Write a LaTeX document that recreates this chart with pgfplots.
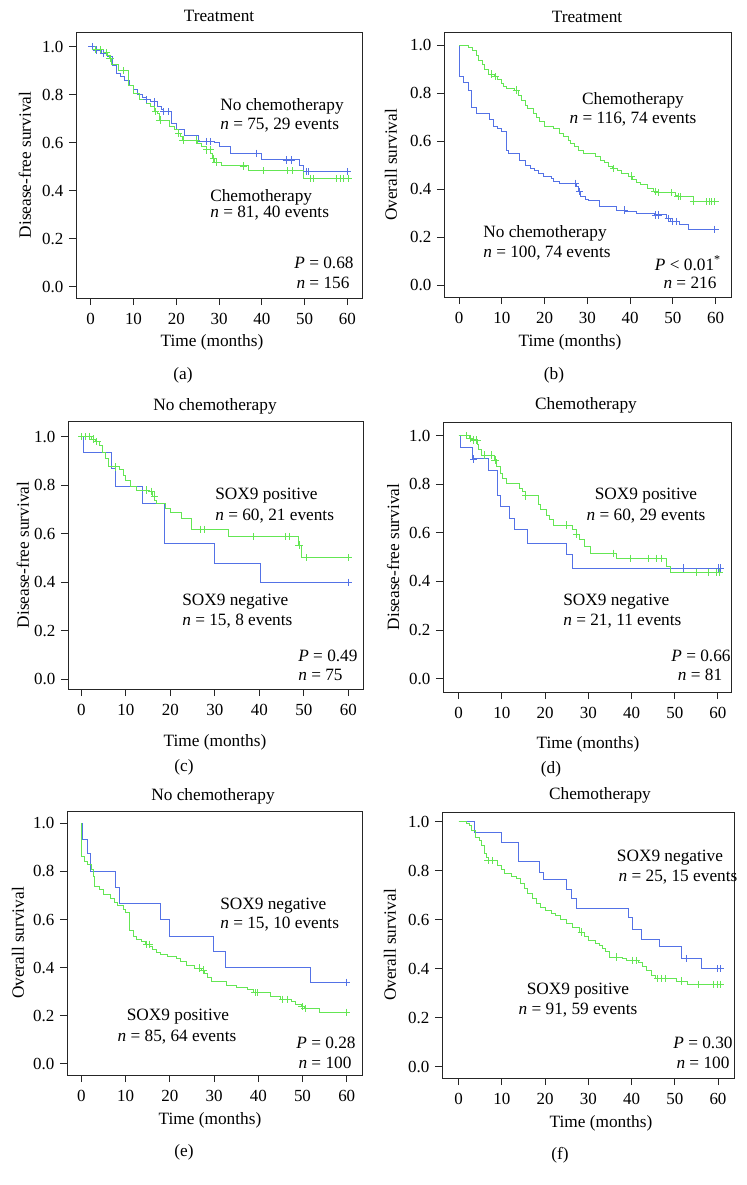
\documentclass[border=0pt]{standalone}
\usepackage{fontspec}
\setmainfont{Liberation Serif}
\usepackage{pgfplots}
\pgfplotsset{compat=1.18}
\definecolor{kmblue}{RGB}{84,114,230}
\definecolor{kmgreen}{RGB}{100,230,84}
\pgfplotsset{
  km/.style={
    scale only axis, anchor=south west,
    xtick={0,10,20,30,40,50,60},
    ytick={0,0.2,0.4,0.6,0.8,1},
    yticklabel style={/pgf/number format/fixed,/pgf/number format/fixed zerofill,/pgf/number format/precision=1},
    /pgf/number format/assume math mode=true,
    tick align=outside, tick pos=left, major tick length=4.4pt,
    axis line style={line width=0.6pt,black!85},
    tick style={line width=0.6pt,black!85},
    tick label style={font=\fontsize{10.6}{12.5}\selectfont},
    xticklabel style={yshift=-1.5pt},
    clip=false,
  },
  blueline/.style={const plot, kmblue, line width=0.6pt, no marks},
  greenline/.style={const plot, kmgreen, line width=0.6pt, no marks},
  bluecens/.style={only marks, kmblue, mark=+, mark size=2.3pt, mark options={line width=0.5pt}},
  greencens/.style={only marks, kmgreen, mark=+, mark size=2.3pt, mark options={line width=0.5pt}},
}
\begin{document}
\begin{tikzpicture}[font=\fontsize{10.8}{13}\selectfont]

% (a) disease-free survival, treatment
\begin{axis}[km, at={(47.5pt,554.375pt)}, width=178.75pt, height=166.25pt,
  xmin=-3.44, xmax=63.43, ymin=-0.047, ymax=1.061]
\addplot[blueline] coordinates {(0,1)(1,0.986)(2.5,0.972)(4,0.958)(5,0.92)(6,0.89)(7,0.875)(8,0.86)(9,0.84)(10,0.82)(11,0.80)(12,0.79)(13,0.78)(14,0.77)(15.5,0.75)(16.5,0.74)(17,0.73)(19,0.68)(20,0.655)(22,0.632)(25.3,0.605)(29,0.60)(30,0.583)(32.6,0.556)(40,0.528)(48.8,0.507)(49.7,0.479)(60,0.479)};
\addplot[bluecens] coordinates {(0.3,1)(1.3,0.986)(3,0.972)(13.1,0.78)(14.9,0.77)(17,0.73)(18.2,0.73)(27.1,0.605)(27.9,0.605)(38.8,0.556)(45.8,0.528)(47,0.528)(50.5,0.479)(50.9,0.479)(60,0.479)};
\addplot[greenline] coordinates {(0,1)(1,0.987)(3,0.975)(4,0.963)(4.5,0.951)(4.9,0.924)(6.5,0.90)(8.8,0.84)(10,0.805)(11.5,0.78)(13,0.765)(14,0.75)(15,0.73)(15.5,0.722)(16,0.694)(18.5,0.667)(19.5,0.653)(20.5,0.64)(21,0.625)(21.5,0.611)(25,0.597)(26,0.583)(27,0.57)(28,0.556)(28.5,0.535)(29,0.517)(30.5,0.503)(37,0.483)(49.7,0.451)(60.6,0.451)};
\addplot[greencens] coordinates {(1.1,0.987)(2.2,0.987)(3.7,0.975)(4.5,0.951)(7.6,0.90)(15.2,0.73)(16.2,0.694)(20.6,0.64)(21.6,0.611)(24.8,0.611)(27.1,0.57)(27.9,0.57)(28.7,0.535)(29.3,0.517)(35.7,0.503)(40.4,0.483)(46,0.483)(47.2,0.483)(51.3,0.451)(52.1,0.451)(57.5,0.451)(58.3,0.451)(59.1,0.451)(60.2,0.451)};
\end{axis}

% (b) overall survival, treatment
\begin{axis}[km, at={(277.5pt,555pt)}, width=179.4pt, height=165.6pt,
  xmin=-3.51, xmax=63.58, ymin=-0.05, ymax=1.054]
\addplot[blueline] coordinates {(0,1)(0.1,0.94)(0.2,0.87)(1.1,0.843)(2.1,0.81)(2.9,0.74)(4,0.715)(7.2,0.69)(8,0.662)(9,0.653)(9.9,0.64)(11,0.5625)(11.5,0.546)(14.2,0.52)(15.5,0.5)(16.8,0.486)(17.7,0.476)(18.6,0.465)(19.8,0.454)(21.5,0.444)(22,0.43)(23.5,0.424)(27.4,0.41)(27.9,0.389)(28.5,0.368)(29.5,0.357)(30.2,0.354)(32.9,0.326)(36.8,0.3125)(39,0.306)(41.5,0.299)(45.8,0.292)(48.5,0.278)(49.5,0.264)(51.6,0.254)(53.6,0.232)(59.8,0.232)};
\addplot[bluecens] coordinates {(27.2,0.424)(28.2,0.389)(38.7,0.3125)(46,0.292)(46.6,0.292)(48.9,0.278)(49.8,0.264)(50.7,0.264)(59.8,0.232)};
\addplot[greenline] coordinates {(0,1)(2.1,0.99)(3.1,0.976)(4,0.958)(4.5,0.9375)(5.5,0.917)(6,0.896)(7,0.879)(8.2,0.868)(9,0.857)(10,0.84)(10.5,0.826)(11,0.819)(13,0.8125)(14,0.79)(14.5,0.768)(15.5,0.75)(16,0.736)(17.5,0.715)(18,0.70)(18.8,0.68)(20,0.66)(22,0.653)(23.5,0.632)(24.5,0.618)(25.5,0.604)(26,0.59)(27,0.576)(28,0.562)(29,0.55)(30.5,0.546)(32,0.535)(33,0.52)(34,0.51)(35,0.493)(35.9,0.486)(37,0.479)(38,0.465)(39.5,0.454)(40.5,0.44)(41.5,0.426)(42.5,0.417)(44,0.403)(45.5,0.39)(46,0.385)(50.5,0.375)(51,0.368)(54.7,0.347)(60,0.347)};
\addplot[greencens] coordinates {(7.6,0.879)(8.6,0.868)(13.4,0.8125)(36.2,0.486)(40.3,0.454)(45.8,0.39)(46.5,0.385)(49.7,0.385)(51.2,0.368)(51.8,0.368)(54.8,0.347)(57.9,0.347)(58.5,0.347)(59.1,0.347)(59.8,0.347)};
\end{axis}

% (c) disease-free survival, no chemotherapy
\begin{axis}[km, at={(42.5pt,310pt)}, width=184.4pt, height=166.9pt,
  xmin=-2.99, xmax=63.3, ymin=-0.04, ymax=1.061]
\addplot[blueline] coordinates {(0,1)(0.45,0.934)(6.7,0.868)(7.6,0.797)(13.8,0.725)(18.6,0.56)(30,0.476)(40.3,0.40)(60,0.40)};
\addplot[bluecens] coordinates {(60,0.40)};
\addplot[greenline] coordinates {(0,1)(2.3,0.99)(3.2,0.98)(4,0.966)(4.8,0.934)(5.5,0.91)(6,0.876)(8.5,0.863)(9.5,0.842)(10,0.821)(11,0.794)(12.4,0.78)(15.4,0.775)(16,0.755)(16.5,0.739)(17,0.725)(19,0.705)(20,0.687)(22.5,0.663)(24.8,0.618)(33,0.588)(48.8,0.553)(49.5,0.501)(60,0.501)};
\addplot[greencens] coordinates {(0.1,1)(1,1)(1.8,1)(2.7,0.99)(3.5,0.98)(7.6,0.876)(14.7,0.78)(15.8,0.775)(16.4,0.755)(26.7,0.618)(27.6,0.618)(38.7,0.588)(45.8,0.588)(46.7,0.588)(48.9,0.553)(50.6,0.501)(60,0.501)};
\end{axis}

% (d) disease-free survival, chemotherapy
\begin{axis}[km, at={(276.875pt,308.125pt)}, width=180.6pt, height=168.75pt,
  xmin=-3.63, xmax=63.24, ymin=-0.055, ymax=1.056]
\addplot[blueline] coordinates {(0,1)(0.4,0.952)(3.3,0.904)(6.8,0.855)(8.9,0.753)(9.7,0.708)(11.8,0.66)(13,0.612)(16,0.557)(24.9,0.509)(26.3,0.455)(60.8,0.455)};
\addplot[bluecens] coordinates {(3.5,0.904)(52.1,0.455)(60,0.455)(60.5,0.455)};
\addplot[greenline] coordinates {(0,1)(2.5,0.989)(3,0.982)(4.3,0.964)(4.6,0.941)(5.2,0.92)(8.3,0.9)(8.8,0.872)(9.7,0.845)(10.2,0.824)(11.1,0.804)(14.1,0.783)(14.8,0.77)(15.5,0.752)(18.4,0.715)(19,0.694)(20.2,0.67)(21,0.653)(22,0.632)(26.4,0.615)(27.3,0.594)(28,0.571)(29.2,0.543)(30.5,0.516)(36.5,0.495)(48,0.46)(49,0.436)(60.8,0.436)};
\addplot[greencens] coordinates {(1.8,1)(2.6,0.989)(3.5,0.982)(4.2,0.982)(6,0.92)(7.6,0.92)(8.4,0.9)(15.5,0.752)(24.9,0.632)(27.3,0.594)(35.7,0.516)(39.8,0.495)(43.8,0.495)(45.7,0.495)(46.9,0.495)(55,0.436)(57.7,0.436)(59.6,0.436)(60.4,0.436)};
\end{axis}

% (e) overall survival, no chemotherapy
\begin{axis}[km, at={(41.875pt,68.75pt)}, width=184.4pt, height=165pt,
  xmin=-3.23, xmax=63.46, ymin=-0.046, ymax=1.051]
\addplot[blueline] coordinates {(0,1)(0.2,0.934)(1.4,0.873)(2.1,0.80)(7.8,0.734)(8.6,0.668)(17.9,0.601)(20,0.529)(29.8,0.467)(32.7,0.402)(51.7,0.339)(60,0.339)};
\addplot[bluecens] coordinates {(60,0.339)};
\addplot[greenline] coordinates {(0,1)(0.1,0.862)(0.8,0.843)(1.5,0.827)(2.2,0.81)(2.8,0.78)(3,0.737)(4,0.723)(5,0.706)(6.5,0.688)(7.5,0.67)(8.2,0.657)(9.5,0.64)(10,0.63)(11,0.554)(11.8,0.529)(12.5,0.518)(13.5,0.508)(14.5,0.497)(15.5,0.488)(16,0.476)(17,0.463)(18,0.456)(19.5,0.446)(21.5,0.439)(22.5,0.425)(23.7,0.411)(25.5,0.398)(27.2,0.39)(27.8,0.377)(28.5,0.36)(29.4,0.342)(32.9,0.328)(35,0.319)(37.5,0.31)(39,0.296)(42.7,0.28)(45,0.269)(47.5,0.259)(48.5,0.249)(49.8,0.238)(50.4,0.231)(53.8,0.215)(60,0.215)};
\addplot[greencens] coordinates {(14.8,0.497)(15.3,0.497)(26.7,0.398)(27.5,0.39)(39.3,0.296)(39.8,0.296)(45.5,0.269)(46.6,0.269)(49.9,0.238)(50.6,0.231)(60,0.215)};
\end{axis}

% (f) overall survival, chemotherapy
\begin{axis}[km, at={(276.25pt,66.875pt)}, width=183.1pt, height=166.25pt,
  xmin=-3.86, xmax=63.93, ymin=-0.046, ymax=1.04]
\addplot[blueline] coordinates {(0,1)(3.7,0.958)(9.9,0.916)(13.9,0.836)(18.7,0.795)(19.7,0.764)(24.9,0.723)(26.1,0.686)(27.2,0.645)(39.2,0.611)(40.2,0.561)(42.3,0.519)(46.4,0.489)(51.5,0.442)(56.2,0.40)(61,0.40)};
\addplot[bluecens] coordinates {(52.7,0.442)(59.8,0.40)(60.6,0.40)};
\addplot[greenline] coordinates {(0,1)(1.9,0.992)(2.5,0.985)(3,0.965)(4,0.9375)(4.8,0.924)(5.3,0.904)(6,0.872)(6.5,0.853)(6.8,0.842)(8.9,0.822)(9.8,0.804)(10.7,0.79)(12.2,0.777)(13.4,0.768)(14.3,0.747)(15.2,0.727)(16,0.707)(17,0.686)(18,0.668)(19,0.652)(20,0.639)(21.5,0.625)(22.5,0.618)(23.5,0.60)(25,0.584)(26.3,0.57)(28,0.55)(29,0.53)(30,0.516)(31.6,0.505)(32.6,0.496)(33.3,0.482)(34,0.469)(35,0.448)(37.8,0.44)(38.8,0.435)(41.5,0.424)(42.5,0.408)(43.5,0.391)(44.5,0.374)(45.5,0.36)(50.3,0.35)(53,0.337)(60.8,0.337)};
\addplot[greencens] coordinates {(6.8,0.842)(7.9,0.842)(28.4,0.55)(36.5,0.448)(40.2,0.435)(41.1,0.435)(46,0.36)(47,0.36)(47.8,0.36)(51.5,0.35)(55.5,0.337)(59,0.337)(59.8,0.337)(60.6,0.337)};
\end{axis}

\begin{scope}[x=0.625pt,y=0.625pt]
\path (0,0) rectangle (747,1185);
% titles
\node at (219,1169) {Treatment};
\node at (587,1168) {Treatment};
\node at (215,779) {No chemotherapy};
\node at (586,780) {Chemotherapy};
\node at (213,389) {No chemotherapy};
\node at (600,390) {Chemotherapy};
% y labels
\node[rotate=90] at (25,1020) {Disease-free survival};
\node[rotate=90] at (391,1020) {Overall survival};
\node[rotate=90] at (23,630) {Disease-free survival};
\node[rotate=90] at (393,628) {Disease-free survival};
\node[rotate=90] at (18,242) {Overall survival};
\node[rotate=90] at (390,240) {Overall survival};
% x labels
\node at (212,843) {Time (months)};
\node at (570,843) {Time (months)};
\node at (215,443) {Time (months)};
\node at (588,441) {Time (months)};
\node at (210,65) {Time (months)};
\node at (601,62) {Time (months)};
% panel letters
\node at (183,810) {(a)};
\node at (554,810) {(b)};
\node at (184,418) {(c)};
\node at (551,416) {(d)};
\node at (184,33) {(e)};
\node at (560,30) {(f)};

% annotations (a)
\node[anchor=west,inner sep=0pt] at (220,1079) {No chemotherapy};
\node[anchor=west,inner sep=0pt] at (220,1060) {\textit{n} = 75, 29 events};
\node[anchor=west,inner sep=0pt] at (210,988) {Chemotherapy};
\node[anchor=west,inner sep=0pt] at (210,972) {\textit{n} = 81, 40 events};
\node at (324,922) {\textit{P} = 0.68};
\node at (323,902) {\textit{n} = 156};
% annotations (b)
\node at (633,1085) {Chemotherapy};
\node at (633,1066) {\textit{n} = 116, 74 events};
\node[anchor=west,inner sep=0pt] at (483,952) {No chemotherapy};
\node[anchor=west,inner sep=0pt] at (483,932) {\textit{n} = 100, 74 events};
\node at (688,922) {\textit{P} < 0.01\textsuperscript{*}};
\node at (690,902) {\textit{n} = 216};
% annotations (c)
\node[anchor=west,inner sep=0pt] at (215,689) {SOX9 positive};
\node[anchor=west,inner sep=0pt] at (215,669) {\textit{n} = 60, 21 events};
\node[anchor=west,inner sep=0pt] at (182,583) {SOX9 negative};
\node[anchor=west,inner sep=0pt] at (182,564) {\textit{n} = 15, 8 events};
\node[anchor=west,inner sep=0pt] at (298,529) {\textit{P} = 0.49};
\node[anchor=west,inner sep=0pt] at (298,510) {\textit{n} = 75};
% annotations (d)
\node at (646,689) {SOX9 positive};
\node at (646,669) {\textit{n} = 60, 29 events};
\node[anchor=west,inner sep=0pt] at (563,583) {SOX9 negative};
\node[anchor=west,inner sep=0pt] at (563,564) {\textit{n} = 21, 11 events};
\node at (701,529) {\textit{P} = 0.66};
\node at (700,510) {\textit{n} = 81};
% annotations (e)
\node[anchor=west,inner sep=0pt] at (220,279) {SOX9 negative};
\node[anchor=west,inner sep=0pt] at (220,261) {\textit{n} = 15, 10 events};
\node at (178,168) {SOX9 positive};
\node at (177,148) {\textit{n} = 85, 64 events};
\node at (326,142) {\textit{P} = 0.28};
\node at (325,122) {\textit{n} = 100};
% annotations (f)
\node at (670,327) {SOX9 negative};
\node at (678,308) {\textit{n} = 25, 15 events};
\node at (578,194) {SOX9 positive};
\node at (578,175) {\textit{n} = 91, 59 events};
\node at (703,142) {\textit{P} = 0.30};
\node at (703,122) {\textit{n} = 100};
\end{scope}
\end{tikzpicture}
\end{document}
